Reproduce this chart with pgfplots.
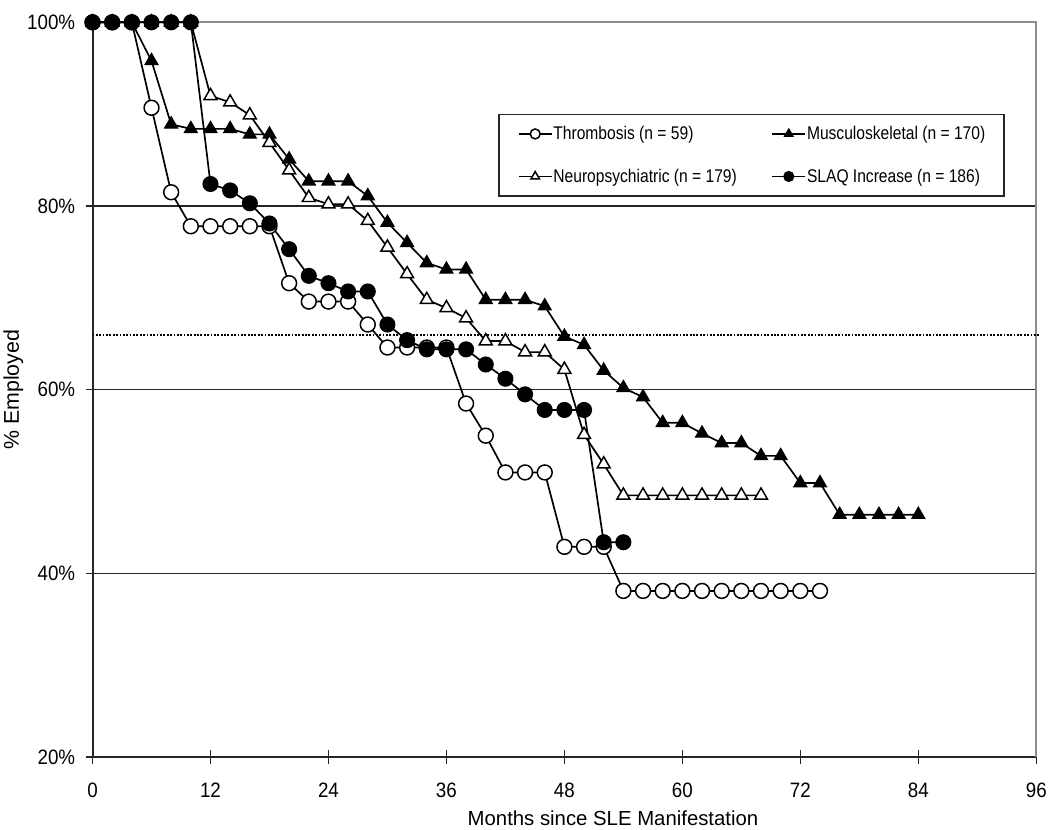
\documentclass[border=0pt]{standalone}
\usepackage{fontspec}
\setmainfont{Liberation Sans}[FakeStretch=0.9]
\newfontfamily\plainsans{Liberation Sans}
\newfontfamily\legfont{Liberation Sans}[FakeStretch=0.85]
\usepackage{pgfplots}
\pgfplotsset{compat=1.18}

\pgfplotstableread{
x y
0 100
2 100
4 100
6 90.7
8 81.5
10 77.8
12 77.8
14 77.8
16 77.8
18 77.8
20 71.6
22 69.6
24 69.6
26 69.6
28 67.1
30 64.6
32 64.6
34 64.6
36 64.6
38 58.5
40 55.0
42 51.0
44 51.0
46 51.0
48 42.9
50 42.9
52 42.9
54 38.1
56 38.1
58 38.1
60 38.1
62 38.1
64 38.1
66 38.1
68 38.1
70 38.1
72 38.1
74 38.1
}\thrombosis

\pgfplotstableread{
x y
0 100
2 100
4 100
6 95.8
8 88.9
10 88.4
12 88.4
14 88.4
16 87.8
18 87.8
20 85.1
22 82.7
24 82.7
26 82.7
28 81.1
30 78.2
32 76.0
34 73.8
36 73.1
38 73.1
40 69.8
42 69.8
44 69.8
46 69.1
48 65.8
50 64.9
52 62.1
54 60.2
56 59.2
58 56.4
60 56.4
62 55.25
64 54.2
66 54.2
68 52.8
70 52.8
72 49.85
74 49.85
76 46.4
78 46.4
80 46.4
82 46.4
84 46.4
}\musculo

\pgfplotstableread{
x y
0 100
2 100
4 100
6 100
8 100
10 100
12 92.0
14 91.3
16 89.9
18 86.9
20 83.9
22 80.9
24 80.2
26 80.2
28 78.4
30 75.5
32 72.6
34 69.8
36 68.9
38 67.8
40 65.3
42 65.3
44 64.1
46 64.1
48 62.2
50 55.1
52 51.9
54 48.5
56 48.5
58 48.5
60 48.5
62 48.5
64 48.5
66 48.5
68 48.5
}\neuro

\pgfplotstableread{
x y
0 100
2 100
4 100
6 100
8 100
10 100
12 82.4
14 81.7
16 80.3
18 78.1
20 75.3
22 72.4
24 71.6
26 70.7
28 70.7
30 67.1
32 65.4
34 64.4
36 64.4
38 64.4
40 62.75
42 61.2
44 59.5
46 57.8
48 57.8
50 57.8
52 43.4
54 43.4
}\slaq

\begin{document}
\begin{tikzpicture}
\begin{axis}[
  scale only axis, width=951pt, height=740.5pt,
  xmin=0, xmax=96, ymin=20, ymax=100,
  clip=false,
  axis x line*=bottom, axis y line*=left,
  axis line style={black!85, line width=2pt},
  xtick={0,12,24,36,48,60,72,84,96},
  xticklabels={0,12,24,36,48,60,72,84,96},
  ytick={20,40,60,80,100},
  yticklabels={20\%,40\%,60\%,80\%,100\%},
  tick align=center, major tick length=14pt,
  tick style={black!85, line width=1.5pt},
  ymajorgrids, major grid style={black!85, line width=1.5pt},
  ticklabel style={font=\fontsize{21}{25}\selectfont},
  xticklabel style={yshift=-15pt},
  yticklabel style={xshift=-7pt},
  xlabel={Months since SLE Manifestation},
  ylabel={\% Employed},
  xlabel style={font=\plainsans\fontsize{20.5}{24}\selectfont, at={(axis description cs:0.5515,-0.093)}, anchor=base},
  ylabel style={font=\plainsans\fontsize{21.5}{25}\selectfont, at={(axis description cs:-0.084,0.5)}, anchor=center},
  legend columns=2,
  legend image code/.code={\draw[mark repeat=2,mark phase=2,mark size=5pt] plot coordinates {(0pt,0pt) (16.5pt,0pt) (33pt,0pt)};},
  legend style={at={(rel axis cs:0.4311,0.8795)}, yshift=-3pt, xshift=-1pt, anchor=north west, draw=black!85, line width=1.5pt, fill=white,
    inner xsep=19pt, inner ysep=12pt, font=\legfont\fontsize{18.5}{22}\selectfont, row sep=28pt,
    nodes={inner sep=0pt, anchor=west},
    /tikz/every odd column/.append style={column sep=1pt},
    /tikz/every even column/.append style={column sep=35pt}},
]
\draw[black!45, line width=2pt] (rel axis cs:0,1) -- (rel axis cs:1,1) -- (rel axis cs:1,0);
\addplot[forget plot, black, line width=1.8pt, dash pattern=on 1.8pt off 1.6pt] coordinates {(0,66) (96.3,66)};

\addplot[black, line width=1.7pt, mark=*, mark size=7.5pt, mark options={solid, fill=white, line width=1.5pt}] table {\thrombosis};
\addlegendentry{Thrombosis (n = 59)}
\addplot[black, line width=1.7pt, mark=triangle*, mark size=7.5pt, mark options={solid, fill=black, line width=1.2pt}] table {\musculo};
\addlegendentry{Musculoskeletal (n = 170)}
\addplot[black, line width=1.7pt, mark=triangle*, mark size=7.5pt, mark options={solid, fill=white, line width=1.5pt}] table {\neuro};
\addlegendentry{Neuropsychiatric (n = 179)}
\addplot[black, line width=1.7pt, mark=*, mark size=7.5pt, mark options={solid, fill=black, line width=1.2pt}] table {\slaq};
\addlegendentry{SLAQ Increase (n = 186)}

\path (rel axis cs:0,0) ++(-88pt,-70pt) rectangle ++(1050pt,833pt);
\end{axis}
\end{tikzpicture}
\end{document}
